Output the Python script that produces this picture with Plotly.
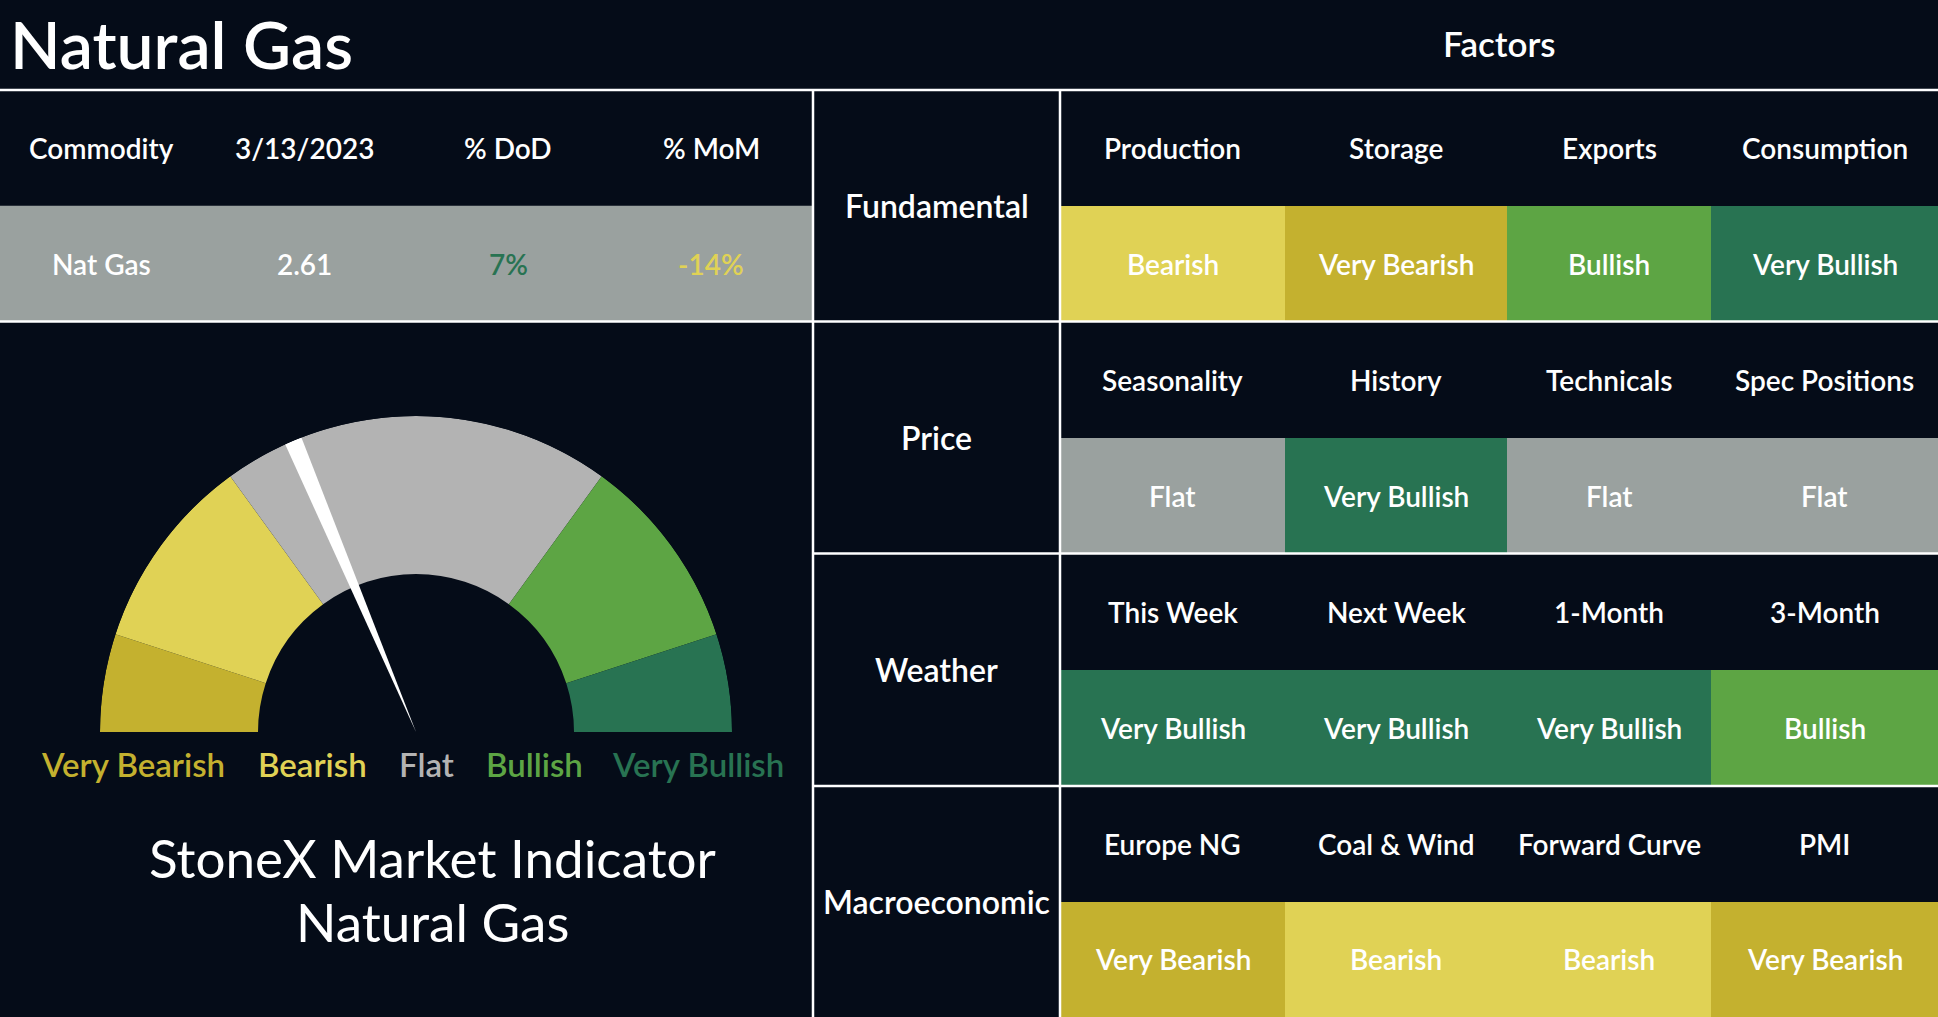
import numpy as np
import plotly.graph_objects as go

# data
title = "Natural Gas"
commodity_headers = ["Commodity", "3/13/2023", "% DoD", "% MoM"]
commodity_values = ["Nat Gas", "2.61", "7%", "-14%"]

categories = ["Fundamental", "Price", "Weather", "Macroeconomic"]
factors = [
    ["Production", "Storage", "Exports", "Consumption"],
    ["Seasonality", "History", "Technicals", "Spec Positions"],
    ["This Week", "Next Week", "1-Month", "3-Month"],
    ["Europe NG", "Coal & Wind", "Forward Curve", "PMI"],
]
signals = [
    ["Bearish", "Very Bearish", "Bullish", "Very Bullish"],
    ["Flat", "Very Bullish", "Flat", "Flat"],
    ["Very Bullish", "Very Bullish", "Very Bullish", "Bullish"],
    ["Very Bearish", "Bearish", "Bearish", "Very Bearish"],
]

levels = ["Very Bearish", "Bearish", "Flat", "Bullish", "Very Bullish"]
band_edges = [0, 10, 30, 70, 90, 100]
indicator_value = 37.3

# styling
BG = "#050c18"
FONT = "Lato"
level_colors = ["#C4B12F", "#E0D255", "#9AA19F", "#5DA544", "#287352"]
gauge_colors = ["#C4B12F", "#E0D255", "#B3B3B3", "#5DA544", "#287352"]
label_colors = ["#C4B12F", "#E0D255", "#B3B3B3", "#5DA544", "#287352"]

W, H = 1938, 1017
left_w = 813
cat_edges = [813, 1060]
col_edges = [1060, 1285, 1507, 1711, 1938]
block_edges = [90, 321.5, 553.5, 786, 1017]
row_edges = []
for i in range(4):
    row_edges += [block_edges[i], (block_edges[i] + block_edges[i + 1]) / 2]
row_edges.append(block_edges[-1])

n = len(levels)
cscale = []
for i, c in enumerate(level_colors):
    cscale += [[i / n, c], [(i + 1) / n, c]]

fig = go.Figure()

# factor signal cells (header rows left empty)
z = []
for sig in signals:
    z.append([None] * 4)
    z.append([levels.index(s) for s in sig])
fig.add_trace(go.Heatmap(
    x=col_edges, y=row_edges, z=z, zmin=-0.5, zmax=n - 0.5,
    colorscale=cscale, showscale=False, hoverinfo="skip"
))

# commodity row
fig.add_trace(go.Heatmap(
    x=[0, left_w], y=[block_edges[0] + (block_edges[1] - block_edges[0]) / 2, block_edges[1]],
    z=[[levels.index("Flat")]], zmin=-0.5, zmax=n - 0.5,
    colorscale=cscale, showscale=False, hoverinfo="skip"
))

# gauge bands
deg = lambda v: v * 180 / 100
for i, lvl in enumerate(levels):
    a, b = deg(band_edges[i]), deg(band_edges[i + 1])
    fig.add_trace(go.Barpolar(
        theta=[(a + b) / 2], width=[b - a], r=[0.5], base=[0.5],
        marker=dict(color=gauge_colors[i], line=dict(width=0)),
        hoverinfo="skip", showlegend=False
    ))
# needle
fig.add_trace(go.Barpolar(
    theta=[deg(indicator_value)], width=[3.2], r=[1.0], base=[0],
    marker=dict(color="white", line=dict(width=0)),
    hoverinfo="skip", showlegend=False
))

ann = []
def txt(x, y, s, size=28, color="white", weight=600, xanchor="center"):
    ann.append(dict(x=x, y=y, xref="x", yref="y", text=s, showarrow=False,
                    xanchor=xanchor, yanchor="middle",
                    font=dict(family=FONT, size=size, color=color, weight=weight)))

txt(8, 43, title, size=66, weight=600, xanchor="left")
txt((col_edges[0] + W) / 2, 43, "Factors", size=35)

# commodity table text
cw = left_w / 4
hy = (block_edges[0] + row_edges[1]) / 2
vy = (row_edges[1] + block_edges[1]) / 2
val_colors = ["white", "white",
              level_colors[4] if not commodity_values[2].startswith("-") else level_colors[1],
              level_colors[4] if not commodity_values[3].startswith("-") else level_colors[1]]
for j in range(4):
    txt(cw * (j + 0.5), hy, commodity_headers[j], size=28)
    txt(cw * (j + 0.5), vy, commodity_values[j], size=28, color=val_colors[j])

# factor table text
for i in range(4):
    txt((cat_edges[0] + cat_edges[1]) / 2, (block_edges[i] + block_edges[i + 1]) / 2,
        categories[i], size=32)
    for j in range(4):
        cx = (col_edges[j] + col_edges[j + 1]) / 2
        txt(cx, (row_edges[2 * i] + row_edges[2 * i + 1]) / 2, factors[i][j], size=28)
        txt(cx, (row_edges[2 * i + 1] + row_edges[2 * i + 2]) / 2, signals[i][j], size=28)

# gauge labels
label_x = [133, 312, 426, 534, 698]
for i, lvl in enumerate(levels):
    txt(label_x[i], 764, lvl, size=33, color=label_colors[i])

txt(432, 857, "StoneX Market Indicator", size=53, weight=400)
txt(432, 921, "Natural Gas", size=53, weight=400)

# borders
shapes = []
def line(x0, y0, x1, y1):
    shapes.append(dict(type="line", xref="x", yref="y", x0=x0, y0=y0, x1=x1, y1=y1,
                       line=dict(color="white", width=2.5), layer="above"))
line(0, block_edges[0], W, block_edges[0])
line(0, block_edges[1], W, block_edges[1])
for y in block_edges[2:4]:
    line(left_w, y, W, y)
for x in cat_edges:
    line(x, block_edges[0], x, H)

fig.update_layout(
    width=W, height=H, margin=dict(l=0, r=0, t=0, b=0),
    paper_bgcolor=BG, plot_bgcolor=BG, showlegend=False,
    xaxis=dict(range=[0, W], visible=False, domain=[0, 1], fixedrange=True),
    yaxis=dict(range=[H, 0], visible=False, domain=[0, 1], fixedrange=True),
    polar=dict(
        domain=dict(x=[100 / W, 732 / W], y=[1 - 732 / H, 1 - 416 / H]),
        sector=[0, 180], bgcolor=BG, hole=0, bargap=0, barmode="overlay",
        radialaxis=dict(range=[0, 1], visible=False, showgrid=False),
        angularaxis=dict(rotation=180, direction="clockwise", visible=False,
                         showgrid=False, showline=False, ticks=""),
    ),
    annotations=ann, shapes=shapes,
)

fig.write_html("out.html", config={"displayModeBar": False},
               post_script="document.body.style.margin='0';"
               "document.body.style.background='%s';" % BG)
